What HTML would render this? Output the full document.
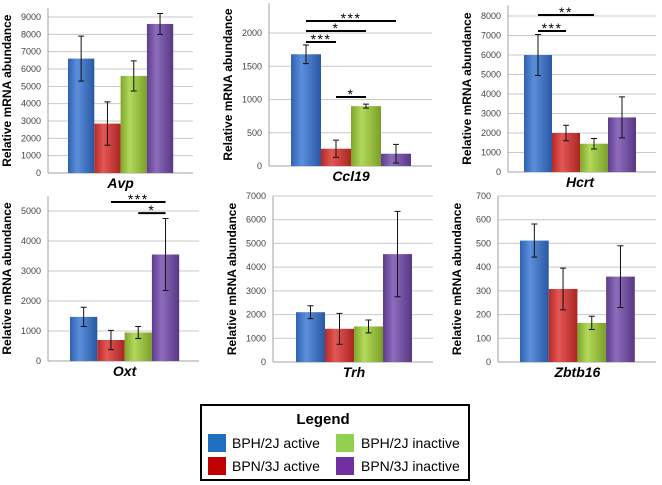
<!DOCTYPE html>
<html><head><meta charset="utf-8"><style>
body{margin:0;background:#fff;width:662px;height:485px;overflow:hidden;font-family:"Liberation Sans",sans-serif}
svg{display:block}
</style></head><body>
<svg id="c" width="662" height="485" xmlns="http://www.w3.org/2000/svg">
<defs>
<linearGradient id="g0" x1="0" x2="1"><stop offset="0" stop-color="#2f62b0"/><stop offset="0.35" stop-color="#5b8fdc"/><stop offset="1" stop-color="#2a58a3"/></linearGradient>
<linearGradient id="g1" x1="0" x2="1"><stop offset="0" stop-color="#b42a28"/><stop offset="0.35" stop-color="#e35754"/><stop offset="1" stop-color="#aa2623"/></linearGradient>
<linearGradient id="g2" x1="0" x2="1"><stop offset="0" stop-color="#7fa62c"/><stop offset="0.35" stop-color="#b2d95a"/><stop offset="1" stop-color="#7a9f28"/></linearGradient>
<linearGradient id="g3" x1="0" x2="1"><stop offset="0" stop-color="#5e3d8c"/><stop offset="0.35" stop-color="#8e6cbd"/><stop offset="1" stop-color="#583884"/></linearGradient>
</defs>
<g>
<rect x="201" y="405" width="268" height="75" fill="#fff" stroke="#000" stroke-width="2"/>
<text x="323" y="424" text-anchor="middle" font-size="15" font-weight="bold">Legend</text>
<rect x="208" y="434" width="18" height="18" fill="#1f6fc0"/>
<text x="232" y="448" font-size="14">BPH/2J active</text>
<rect x="208" y="457" width="18" height="18" fill="#c00000"/>
<text x="232" y="471" font-size="14">BPN/3J active</text>
<rect x="336" y="434" width="18" height="18" fill="#92d050"/>
<text x="361" y="448" font-size="14">BPH/2J inactive</text>
<rect x="336" y="457" width="18" height="18" fill="#7030a0"/>
<text x="361" y="471" font-size="14">BPN/3J inactive</text>
</g>
</svg>
<script>
const genes = ["Avp","Ccl19","Hcrt","Oxt","Trh","Zbtb16"];
const avpVals = [6600,2850,5600,8600];
const avpErr = [1300,1250,870,600];
const ccl19Vals = [1680,260,900,185];
const ccl19Err = [140,130,30,140];
const hcrtVals = [6000,2000,1450,2800];
const hcrtErr = [1050,400,270,1050];
const oxtVals = [1470,700,950,3550];
const oxtErr = [320,320,200,1200];
const trhVals = [2100,1400,1500,4550];
const trhErr = [270,650,270,1800];
const zbtbVals = [512,308,165,360];
const zbtbErr = [70,88,28,130];
const avpTicks = [0,1000,2000,3000,4000,5000,6000,7000,8000,9000];
const ccl19Ticks = [0,500,1000,1500,2000];
const hcrtTicks = [0,1000,2000,3000,4000,5000,6000,7000,8000];
const oxtTicks = [0,1000,2000,3000,4000,5000];
const trhTicks = [0,1000,2000,3000,4000,5000,6000,7000];
const zbtbTicks = [0,100,200,300,400,500,600,700];
// significance: [fromBar, toBar, value level, label]
const ccl19Sig = [[0,1,1865,"***"],[0,2,2030,"*"],[0,3,2180,"***"],[1,2,1037,"*"]];
const hcrtSig = [[0,1,7230,"***"],[0,2,8050,"**"]];
const oxtSig = [[2,3,4930,"*"],[1,3,5300,"***"]];

const NS="http://www.w3.org/2000/svg";
const svg=document.getElementById('c');
function mk(t,a,p){const e=document.createElementNS(NS,t);for(const k in a)e.setAttribute(k,a[k]);(p||svg).appendChild(e);return e;}

const panels=[
 {g:genes[0],v:avpVals,e:avpErr,t:avpTicks,ax:48,right:193,y0:173,ref:9000,yref:17,top:9500,b0:68,bw:26.3,ly:188,sig:[]},
 {g:genes[1],v:ccl19Vals,e:ccl19Err,t:ccl19Ticks,ax:269,right:432,y0:166,ref:2000,yref:33,top:2450,b0:291,bw:30,ly:181,sig:ccl19Sig},
 {g:genes[2],v:hcrtVals,e:hcrtErr,t:hcrtTicks,ax:508,right:656,y0:172,ref:8000,yref:16,top:8550,b0:524,bw:28,ly:187,sig:hcrtSig},
 {g:genes[3],v:oxtVals,e:oxtErr,t:oxtTicks,ax:48,right:199,y0:361,ref:5000,yref:211,top:5500,b0:70,bw:27.3,ly:376,sig:oxtSig},
 {g:genes[4],v:trhVals,e:trhErr,t:trhTicks,ax:273,right:433,y0:362,ref:7000,yref:196,top:7000,b0:296,bw:29,ly:377,sig:[]},
 {g:genes[5],v:zbtbVals,e:zbtbErr,t:zbtbTicks,ax:498,right:656,y0:362,ref:700,yref:196,top:700,b0:520,bw:28.7,ly:377,sig:[]}
];
const fills=["url(#g0)","url(#g1)","url(#g2)","url(#g3)"];
panels.forEach(p=>{
 const G=mk('g',{});
 
 
 const y=v=>p.y0-(v/p.ref)*(p.y0-p.yref);
 const x=i=>p.b0+i*p.bw;
 p.t.forEach(t=>{
  const gl=mk('line',{x1:p.ax,x2:p.right,y1:y(t),y2:y(t),stroke:t===0?'#a0a0a0':'#c8c8c8','stroke-width':1},G);
  
  
  const tk=mk('text',{x:p.ax-7,y:y(t)+3,'text-anchor':'end','font-size':9,fill:'#444'},G);
  tk.textContent=t;
  
  
 });
 const axl=mk('line',{x1:p.ax,x2:p.ax,y1:p.y0,y2:y(p.top),stroke:'#a0a0a0'},G);
 
 
 const yt=mk('text',{transform:`translate(${p.ax-37},${(p.y0+y(p.top))/2}) rotate(-90)`,'text-anchor':'middle','font-size':12,'font-weight':'bold'},G);
 yt.textContent='Relative mRNA abundance';
 
 
 p.v.forEach((v,i)=>{
  const r=mk('rect',{x:x(i),y:y(v),width:p.bw,height:p.y0-y(v),fill:fills[i]},G);
  
  
  const cx=x(i)+p.bw/2, hi=y(v+p.e[i]), lo=y(v-p.e[i]);
  const eb=mk('path',{d:`M${cx},${hi}V${lo}M${cx-3},${hi}H${cx+3}M${cx-3},${lo}H${cx+3}`,stroke:'#111','stroke-width':1,fill:'none'},G);
  
  
 });
 const lb=mk('text',{x:(p.b0+p.b0+4*p.bw)/2,y:p.ly,'text-anchor':'middle','font-size':14,'font-weight':'bold','font-style':'italic'},G);
 lb.textContent=p.g;
 
 
 p.sig.forEach(s=>{
  const x1=x(s[0])+p.bw/2, x2=x(s[1])+p.bw/2, yy=y(s[2]);
  const sl=mk('line',{x1:x1,x2:x2,y1:yy,y2:yy,stroke:'#000','stroke-width':2},G);
  
  
  const st=mk('text',{x:(x1+x2)/2,y:yy+3,'text-anchor':'middle','font-size':14,'letter-spacing':'1.5'},G);
  st.setAttribute('dy','-1');
  st.textContent=s[3];
  
  
 });
});
</script>
</body></html>
